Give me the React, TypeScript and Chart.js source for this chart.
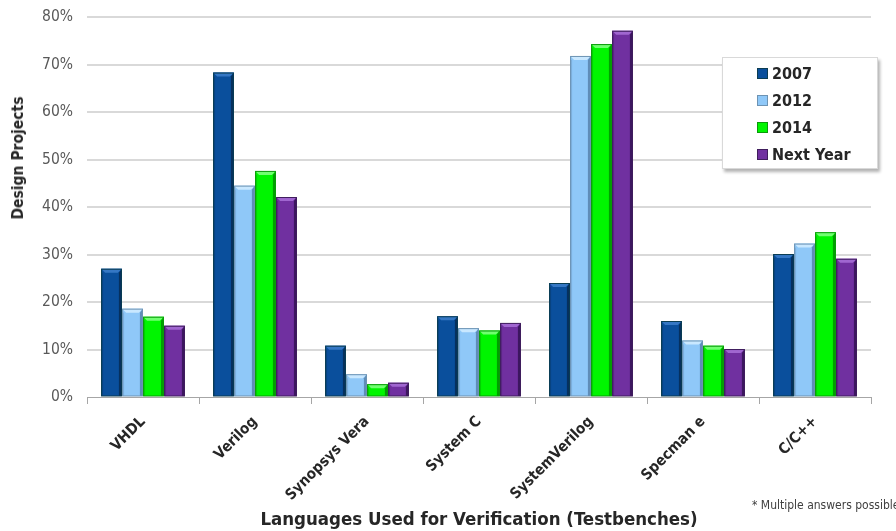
import React, { useEffect, useRef } from "react";
import { Chart, registerables } from "chart.js";

Chart.register(...registerables);

// Survey results: share of design projects using each verification language
const categories = [
  "VHDL",
  "Verilog",
  "Synopsys Vera",
  "System C",
  "SystemVerilog",
  "Specman e",
  "C/C++",
];
const seriesNames = ["2007", "2012", "2014", "Next Year"];
const values2007 = [27, 68.3, 10.8, 17, 24, 16, 30.1];
const values2012 = [18.6, 44.5, 4.8, 14.5, 71.8, 11.9, 32.3];
const values2014 = [16.9, 47.6, 2.7, 14, 74.3, 10.8, 34.7];
const valuesNextYear = [15, 42.1, 3, 15.6, 77.1, 10.1, 29.1];
const yTickMax = 80;
const yTickStep = 10;

const FONT = "'DejaVu Sans Condensed', 'DejaVu Sans', sans-serif";

// face colour plus the bevel shades used for each series
const palette = [
  { face: "#0a4f9c", light: "#3577c4", dark: "#06305e", edge: "#0b3d52" },
  { face: "#8fc8f8", light: "#c9e8ff", dark: "#5f8db8", edge: "#6d93b3" },
  { face: "#00f500", light: "#70ff70", dark: "#00a000", edge: "#0a9a0a" },
  { face: "#7030a0", light: "#a066d0", dark: "#3d1660", edge: "#3f1d5c" },
];

const bevelPlugin = {
  id: "bevel",
  afterDatasetsDraw(chart: any) {
    const ctx = chart.ctx;
    chart.data.datasets.forEach((_: any, i: number) => {
      const meta = chart.getDatasetMeta(i);
      const c = palette[i];
      meta.data.forEach((bar: any) => {
        const p = bar.getProps(["x", "y", "width", "base"], true);
        const l = p.x - p.width / 2;
        const r = p.x + p.width / 2;
        const t = p.y;
        const b = p.base;
        const h = b - t;
        if (h <= 0) return;
        const d = Math.min(4, h / 2);
        ctx.save();
        // top chamfer
        ctx.fillStyle = c.light;
        ctx.beginPath();
        ctx.moveTo(l, t);
        ctx.lineTo(r, t);
        ctx.lineTo(r - d, t + d);
        ctx.lineTo(l + d, t + d);
        ctx.closePath();
        ctx.fill();
        // right shaded side
        ctx.fillStyle = c.dark;
        ctx.beginPath();
        ctx.moveTo(r, t);
        ctx.lineTo(r, b);
        ctx.lineTo(r - d + 1, b);
        ctx.lineTo(r - d + 1, t + d);
        ctx.closePath();
        ctx.fill();
        // left soft side
        ctx.globalAlpha = 0.35;
        ctx.fillStyle = c.dark;
        ctx.fillRect(l, t + d, 2, h - d);
        ctx.globalAlpha = 1;
        // outline
        ctx.strokeStyle = c.edge;
        ctx.lineWidth = 1;
        ctx.strokeRect(l + 0.5, t + 0.5, p.width - 1, h - 0.5);
        ctx.restore();
      });
    });
  },
};

export default function App() {
  const canvasRef = useRef<HTMLCanvasElement | null>(null);

  useEffect(() => {
    const canvas = canvasRef.current;
    if (!canvas) return;
    const seriesValues = [values2007, values2012, values2014, valuesNextYear];
    const chart = new Chart(canvas, {
      type: "bar",
      data: {
        labels: categories,
        datasets: seriesNames.map((name, i) => ({
          label: name,
          data: seriesValues[i],
          backgroundColor: palette[i].face,
          borderWidth: 0,
          categoryPercentage: 0.75,
          barPercentage: 0.99,
        })),
      },
      options: {
        responsive: false,
        animation: false,
        layout: { padding: { top: 17, right: 25, left: 0, bottom: 0 } },
        plugins: {
          legend: { display: false },
          tooltip: { enabled: false },
        },
        scales: {
          x: {
            grid: {
              drawOnChartArea: false,
              drawTicks: true,
              tickLength: 7,
              color: "#a6a6a6",
              offset: true,
            },
            border: { display: true, color: "#a6a6a6", width: 1 },
            ticks: {
              minRotation: 45,
              maxRotation: 45,
              autoSkip: false,
              padding: 9,
              color: "#262626",
              font: { family: FONT, weight: "bold", size: 15 },
            },
            title: {
              display: true,
              text: "Languages Used for Verification (Testbenches)",
              color: "#262626",
              font: { family: FONT, weight: "bold", size: 18.5 },
              padding: { top: 0, bottom: 0 },
            },
            afterFit: (scale: any) => {
              scale.height = 134;
            },
          },
          y: {
            min: 0,
            max: yTickMax,
            ticks: {
              stepSize: yTickStep,
              padding: 14,
              color: "#595959",
              font: { family: FONT, size: 15.5 },
              callback: (v: any) => `${v}%`,
            },
            grid: {
              drawTicks: false,
              lineWidth: 2,
              color: (ctx: any) =>
                ctx.tick && ctx.tick.value === 0 ? "rgba(0,0,0,0)" : "#d9d9d9",
            },
            border: { display: false },
            afterFit: (scale: any) => {
              scale.width = 87;
              scale.paddingTop = 0;
              scale.paddingBottom = 0;
            },
          },
        },
      },
      plugins: [bevelPlugin],
    });
    return () => chart.destroy();
  }, []);

  return (
    <div
      style={{
        position: "fixed",
        left: 0,
        top: 0,
        width: 896,
        height: 531,
        background: "#ffffff",
        overflow: "hidden",
        fontFamily: FONT,
      }}
    >
      <canvas ref={canvasRef} width={896} height={531} />
      <div
        style={{
          position: "absolute",
          left: 18,
          top: 158,
          transform: "translate(-50%, -50%) rotate(-90deg)",
          whiteSpace: "nowrap",
          fontSize: 15.5,
          fontWeight: "bold",
          color: "#262626",
        }}
      >
        Design Projects
      </div>
      <div
        style={{
          position: "absolute",
          left: 722,
          top: 57,
          width: 156,
          height: 112,
          border: "1px solid #d9d9d9",
          boxShadow: "2px 3px 3px rgba(0,0,0,0.3)",
          background: "#ffffff",
          boxSizing: "border-box",
        }}
      >
        {seriesNames.map((name, i) => (
          <div
            key={name}
            style={{
              position: "absolute",
              left: 34,
              top: 15 + i * 27 - 10,
              height: 20,
              display: "flex",
              alignItems: "center",
              whiteSpace: "nowrap",
            }}
          >
            <span
              style={{
                display: "inline-block",
                width: 9,
                height: 9,
                background: palette[i].face,
                border: `1px solid ${palette[i].edge}`,
                marginRight: 4,
              }}
            />
            <span style={{ fontSize: 16, fontWeight: "bold", color: "#262626" }}>
              {name}
            </span>
          </div>
        ))}
      </div>
      <div
        style={{
          position: "absolute",
          left: 752,
          top: 498,
          fontSize: 12,
          color: "#404040",
          whiteSpace: "nowrap",
        }}
      >
        * Multiple answers possible
      </div>
    </div>
  );
}
